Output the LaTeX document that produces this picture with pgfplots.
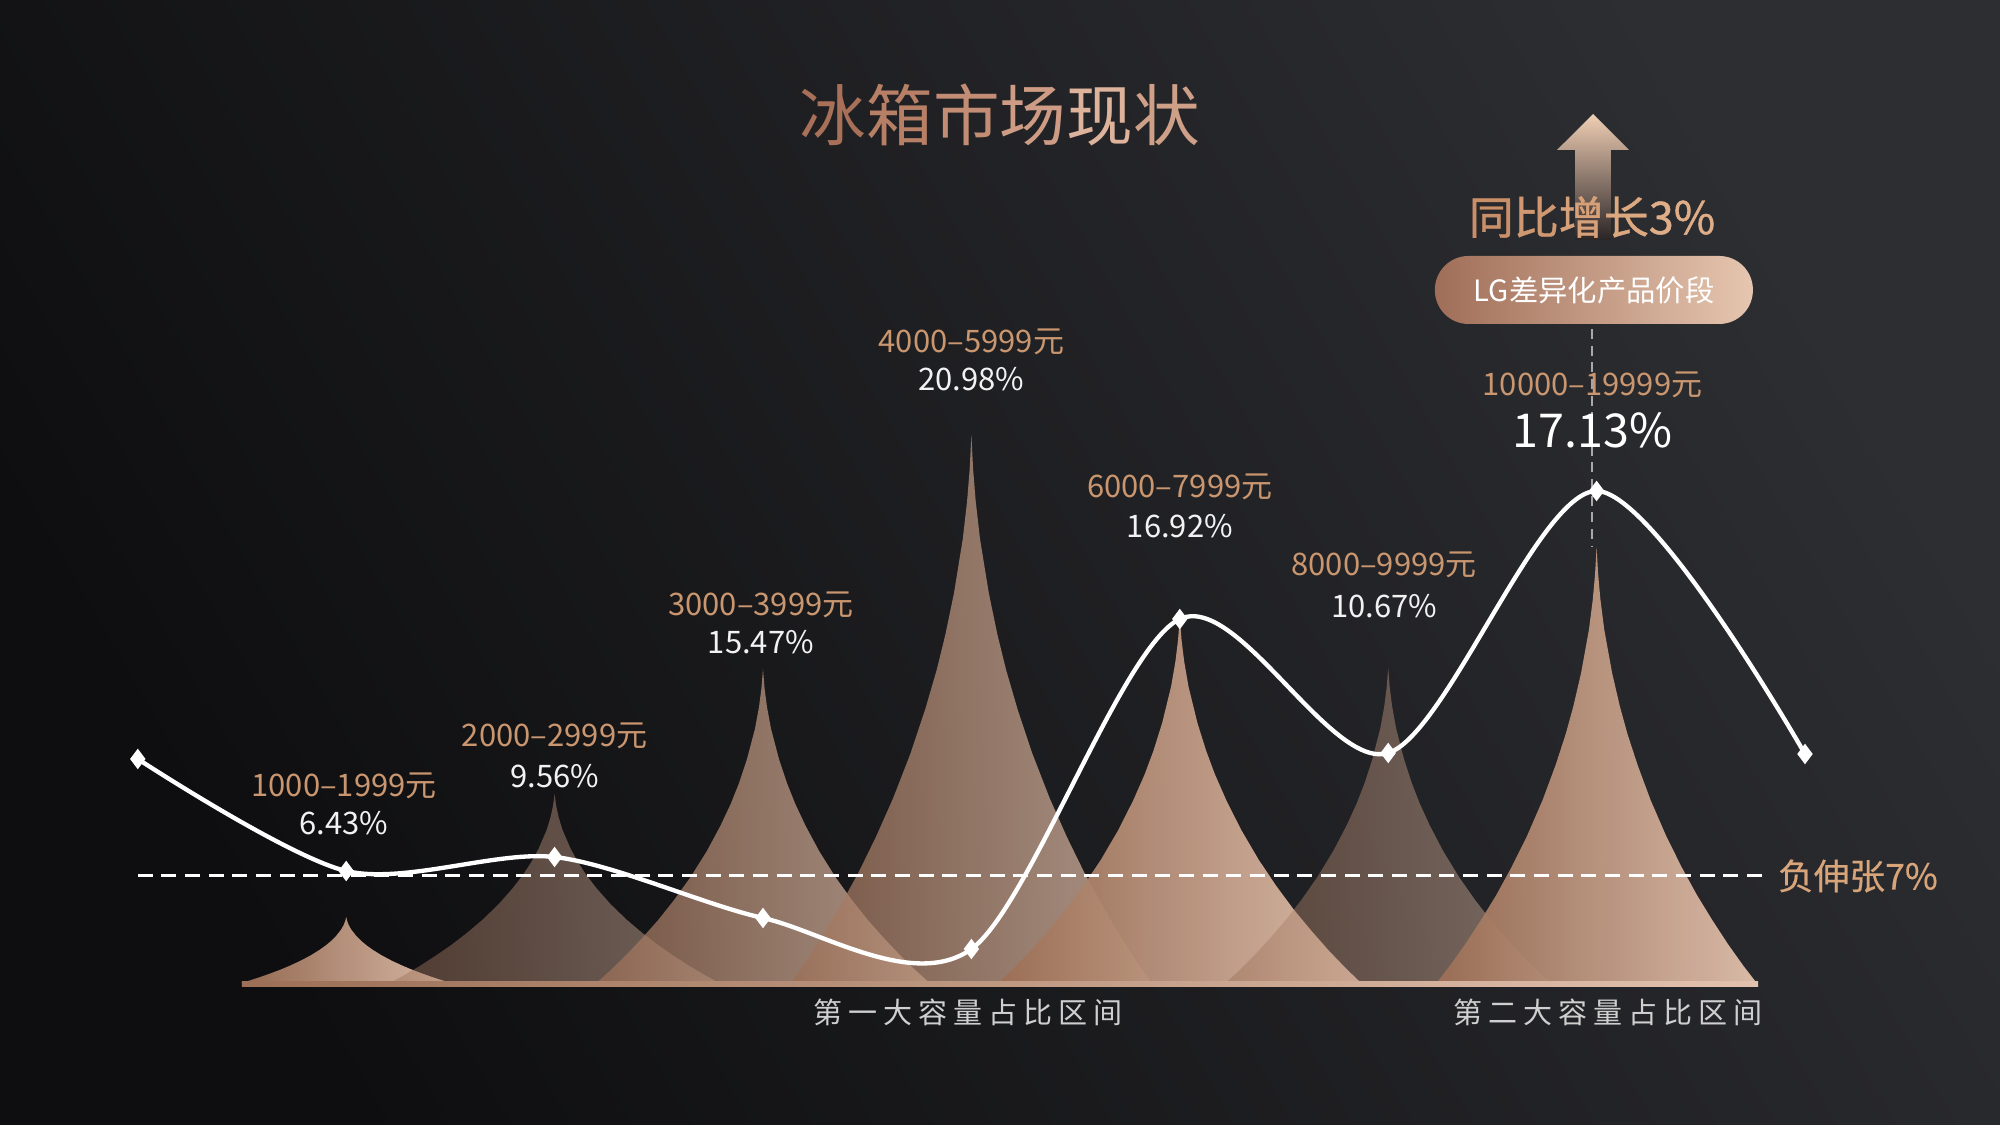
\documentclass[border=0pt]{standalone}
\usepackage{fontspec}
\setmainfont{Noto Sans CJK SC}
\newfontfamily\medfont[FakeBold=0.9]{Noto Sans CJK SC}
\newfontfamily\semifont[FakeBold=0.4]{Noto Sans CJK SC}
\usepackage{pgfplots}
\pgfplotsset{compat=1.18}
\usepackage{pgfplotstable}

\definecolor{bgA}{HTML}{2D2E32}
\definecolor{bgB}{HTML}{0E0E10}
\definecolor{cuL}{HTML}{9C6F56}
\definecolor{cuM}{HTML}{B2866F}
\definecolor{cuR}{HTML}{E2C2AE}
\definecolor{rng}{HTML}{C9966F}
\definecolor{pct}{HTML}{F2F2F2}
\definecolor{neg}{HTML}{D8A47A}
\definecolor{botgray}{HTML}{CFCFCF}
\definecolor{arrT}{HTML}{F0CFB4}
\definecolor{arrB}{HTML}{2A2426}
\definecolor{bdL}{HTML}{A06E58}
\definecolor{bdM}{HTML}{C29480}
\definecolor{bdR}{HTML}{E6C6B0}
\definecolor{vdash}{HTML}{A8A8A8}

% normalized peak outline: u = offset / half-width, v = height fraction
\pgfplotstableread{
u v
-1 0
-0.918 0.039
-0.821 0.089
-0.725 0.143
-0.628 0.201
-0.531 0.266
-0.435 0.337
-0.338 0.419
-0.256 0.500
-0.193 0.571
-0.145 0.635
-0.097 0.711
-0.048 0.810
-0.024 0.879
-0.0097 0.937
0 1
0.0097 0.937
0.024 0.879
0.048 0.810
0.097 0.711
0.145 0.635
0.193 0.571
0.256 0.500
0.338 0.419
0.435 0.337
0.531 0.266
0.628 0.201
0.725 0.143
0.821 0.089
0.918 0.039
1 0
}\peakshape

% center, half-width, height, opacity
\newcommand{\peak}[4]{%
  \addplot[draw=none, left color=cuL, middle color=cuM, right color=cuR, fill opacity=#4]
    table[x expr={#1+#2*\thisrow{u}}, y expr={#3*\thisrow{v}}] {\peakshape};
}

\begin{document}
\begin{tikzpicture}
\begin{axis}[
  width=600pt, height=337.5pt, scale only axis,
  xmin=-0.6612, xmax=8.9357, ymin=-142, ymax=983,
  hide axis, clip=false,
]
% background
\shade[top color=bgA, bottom color=bgB, shading angle=-60]
  (rel axis cs:0,0) rectangle (rel axis cs:1,1);

% peaks
\peak{1}{0.504}{66}{0.95}
\peak{2}{0.79}{189}{0.45}
\peak{3}{0.80}{314}{0.72}
\peak{4}{0.864}{548}{0.72}
\peak{5}{0.87}{366}{0.95}
\peak{6}{0.78}{315}{0.45}
\peak{7}{0.768}{436}{0.95}

% base strip
\shade[left color=cuL, right color=cuR] (axis cs:0.5,-4) rectangle (axis cs:7.775,1);

% dashed reference line
\addplot[white, line width=0.9pt, dash pattern=on 4.5pt off 2.6pt] coordinates {(0,107) (7.818,107)};

% vertical dashed
\addplot[vdash, line width=0.6pt, dash pattern=on 3pt off 2pt] coordinates {(6.98,654) (6.98,437)};

% white curve
\addplot[white, line width=1.3pt, smooth, mark=diamond*, mark size=2pt,
  mark options={fill=white, solid}]
  coordinates {(0,224) (1,112) (2,126) (3,65) (4,34) (5,364) (6,230) (7,492) (8,229)};

% labels
\def\rf{\fontsize{9.3}{11}\selectfont}
\node[text=rng, font=\rf] at (axis cs:0.99,197) {1000–1999元};
\node[text=pct, font=\rf] at (axis cs:0.99,160) {6.43\%};
\node[text=rng, font=\rf] at (axis cs:2.0,247) {2000–2999元};
\node[text=pct, font=\rf] at (axis cs:2.0,207) {9.56\%};
\node[text=rng, font=\rf] at (axis cs:2.99,378) {3000–3999元};
\node[text=pct, font=\rf] at (axis cs:2.99,341) {15.47\%};
\node[text=rng, font=\rf] at (axis cs:4.0,641) {4000–5999元};
\node[text=pct, font=\rf] at (axis cs:4.0,604) {20.98\%};
\node[text=rng, font=\rf] at (axis cs:5.0,496) {6000–7999元};
\node[text=pct, font=\rf] at (axis cs:5.0,457) {16.92\%};
\node[text=rng, font=\rf] at (axis cs:5.98,418) {8000–9999元};
\node[text=pct, font=\rf] at (axis cs:5.98,377) {10.67\%};
\node[text=rng, font=\rf] at (axis cs:6.98,598) {10000–19999元};
\node[text=white, font=\fontsize{14}{16}\selectfont] at (axis cs:6.98,553) {17.13\%};

% title
\node[font=\fontsize{20}{24}\selectfont] at (axis cs:4.137,868)
  {\textcolor[HTML]{A87058}{冰}\textcolor[HTML]{B67F66}{箱}\textcolor[HTML]{C28D74}{市}\textcolor[HTML]{CE9C84}{场}\textcolor[HTML]{DDB39C}{现}\textcolor[HTML]{CFA088}{状}};

% arrow
\shade[top color=arrT, bottom color=arrB]
  (axis cs:6.983,869) -- (axis cs:7.156,833) -- (axis cs:7.069,833) -- (axis cs:7.069,743)
  -- (axis cs:6.897,743) -- (axis cs:6.897,833) -- (axis cs:6.810,833) -- cycle;

\node[font=\medfont\fontsize{13.5}{16}\selectfont] at (axis cs:6.978,766)
  {\textcolor[HTML]{C98F68}{同}\textcolor[HTML]{D09870}{比}\textcolor[HTML]{D6A078}{增}\textcolor[HTML]{DBA880}{长}\textcolor[HTML]{DFAE88}{3\%}};

% badge
\shade[left color=bdL, middle color=bdM, right color=bdR, rounded corners=10.1pt]
  (axis cs:6.224,659) rectangle (axis cs:7.750,727);
\node[text=white, font=\fontsize{8.8}{10}\selectfont] at (axis cs:6.988,693) {LG差异化产品价段};

% right annotation
\node[text=neg, font=\semifont\fontsize{10.7}{12}\selectfont] at (axis cs:8.254,107) {负伸张7\%};

% bottom labels
\node[text=botgray, font=\fontsize{8.7}{10}\selectfont] at (axis cs:3.984,-29)
  {第\hspace{1.8pt}一\hspace{1.8pt}大\hspace{1.8pt}容\hspace{1.8pt}量\hspace{1.8pt}占\hspace{1.8pt}比\hspace{1.8pt}区\hspace{1.8pt}间};
\node[text=botgray, font=\fontsize{8.7}{10}\selectfont] at (axis cs:7.055,-29)
  {第\hspace{1.8pt}二\hspace{1.8pt}大\hspace{1.8pt}容\hspace{1.8pt}量\hspace{1.8pt}占\hspace{1.8pt}比\hspace{1.8pt}区\hspace{1.8pt}间};
\end{axis}
\end{tikzpicture}
\end{document}
